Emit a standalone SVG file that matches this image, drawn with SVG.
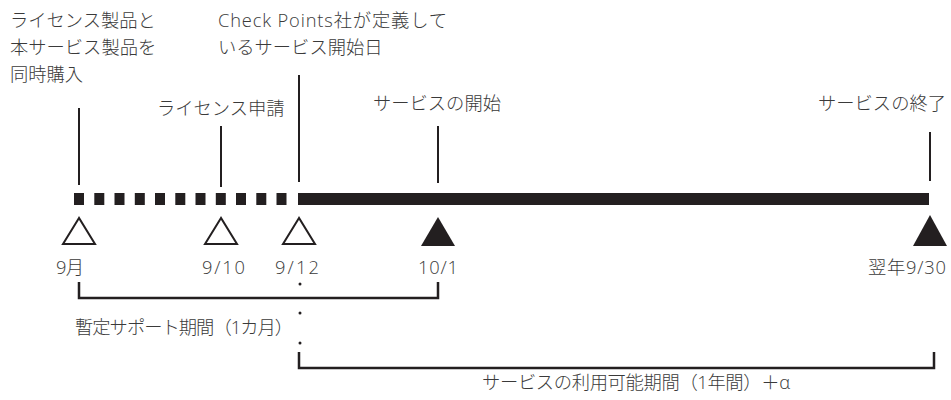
<svg xmlns="http://www.w3.org/2000/svg" width="951" height="400" viewBox="0 0 951 400">
<style>
text{font-family:"Open Sans","Noto Sans CJK JP",sans-serif;font-size:18.3px;fill:#3a3a3a;font-weight:300}
.ln{stroke:#231f20;stroke-width:2;fill:none}
.br{stroke:#231f20;stroke-width:2.5;fill:none}
.open{fill:#fff;stroke:#231f20;stroke-width:2;stroke-linejoin:miter}
.fill{fill:#231f20}
.bar{fill:#231f20}
.dot{fill:#231f20}
</style>
<rect width="951" height="400" fill="#fff"/>
<g id="timeline">
<rect class="bar" x="74" y="193" width="10" height="12"/>
<rect class="bar" x="94.3" y="193" width="10" height="12"/>
<rect class="bar" x="114.5" y="193" width="10" height="12"/>
<rect class="bar" x="134.8" y="193" width="10" height="12"/>
<rect class="bar" x="155" y="193" width="10" height="12"/>
<rect class="bar" x="175.3" y="193" width="10" height="12"/>
<rect class="bar" x="195.5" y="193" width="10" height="12"/>
<rect class="bar" x="215.8" y="193" width="10" height="12"/>
<rect class="bar" x="236" y="193" width="10" height="12"/>
<rect class="bar" x="256.3" y="193" width="10" height="12"/>
<rect class="bar" x="276.5" y="193" width="10" height="12"/>
<rect class="bar" x="298" y="193" width="631" height="12"/>
</g>
<g id="connectors">
<line class="ln" x1="79" y1="108" x2="79" y2="185"/>
<line class="ln" x1="221" y1="126" x2="221" y2="187"/>
<line class="ln" x1="299" y1="75" x2="299" y2="182"/>
<line class="ln" x1="438" y1="126" x2="438" y2="183"/>
<line class="ln" x1="930" y1="132" x2="930" y2="181"/>
<path class="br" d="M79,282 V298 H438 V282"/>
<path class="br" d="M299,352 V368 H934 V352"/>
<circle class="dot" cx="300" cy="284" r="1.5"/>
<circle class="dot" cx="300" cy="313" r="1.5"/>
<circle class="dot" cx="300" cy="343" r="1.5"/>
</g>
<g id="n-purchase">
<text x="10" y="27">ライセンス製品と</text>
<text x="10" y="54">本サービス製品を</text>
<text x="10" y="81">同時購入</text>
<polygon class="open" points="79,218 63,244 95,244"/>
<text x="56" y="274" textLength="28">9月</text>
</g>
<g id="n-apply">
<text x="157" y="115">ライセンス申請</text>
<polygon class="open" points="221,218 205,244 237,244"/>
<text x="202" y="274" textLength="43">9/10</text>
</g>
<g id="n-defined">
<text x="218" y="27" textLength="229">Check Points社が定義して</text>
<text x="218" y="54">いるサービス開始日</text>
<polygon class="open" points="299,218 283,244 315,244"/>
<text x="275" y="274" textLength="44">9/12</text>
</g>
<g id="n-start">
<text x="373" y="110">サービスの開始</text>
<polygon class="fill" points="438,217 421,246 455,246"/>
<text x="418" y="274" textLength="40">10/1</text>
</g>
<g id="n-end">
<text x="946" y="110" text-anchor="end">サービスの終了</text>
<polygon class="fill" points="930,215 913,246 947,246"/>
<text x="868" y="274" textLength="78">翌年9/30</text>
</g>
<g id="n-periods">
<text x="75" y="334" textLength="218">暫定サポート期間（1カ月）</text>
<text x="482" y="389" textLength="308">サービスの利用可能期間（1年間）＋α</text>
</g>
</svg>
